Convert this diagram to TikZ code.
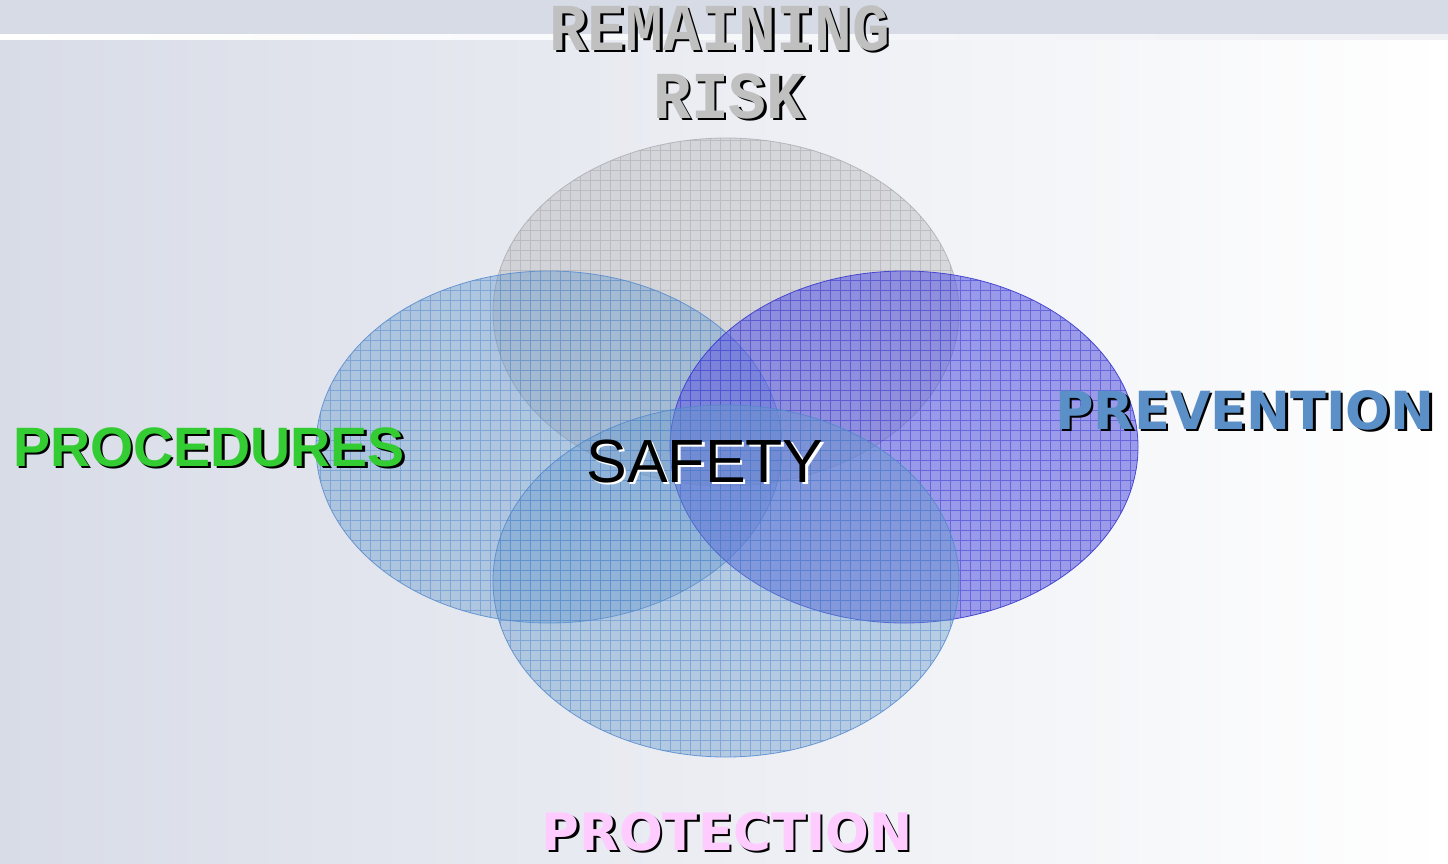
\documentclass[tikz,border=0pt]{standalone}
\usepackage{fontspec}
\newfontfamily\arialf{Liberation Sans}
\newfontfamily\monof{Liberation Mono}
\newfontfamily\verdf{DejaVu Sans}
\definecolor{bgL}{RGB}{216,220,231}
\definecolor{bandc}{RGB}{214,219,230}
\definecolor{grayfill}{RGB}{185,185,188}
\definecolor{grayline}{RGB}{165,165,170}
\definecolor{bluefill}{RGB}{102,153,204}
\definecolor{blueline}{RGB}{80,135,205}
\definecolor{purpfill}{RGB}{95,95,225}
\definecolor{purpline}{RGB}{60,60,205}
\definecolor{procgreen}{RGB}{51,204,51}
\definecolor{prevblue}{RGB}{91,143,200}
\definecolor{protpink}{RGB}{255,204,255}
\definecolor{remgray}{RGB}{192,192,192}
\newcommand{\remfont}{\monof\bfseries\fontsize{67pt}{67pt}\selectfont}
\tikzset{
  lbl/.style={inner sep=0pt, anchor=base},
  shadowblk/.style={lbl, text=black},
}
\begin{document}
\begin{tikzpicture}[x=1pt,y=-1pt]
\useasboundingbox (0,0) rectangle (1448,863);
% background
\fill[left color=bgL, right color=white] (0,0) rectangle (1448,863);
\fill[bandc] (0,0) rectangle (1448,37);
\fill[left color=white, right color=bandc!40!white] (0,34) rectangle (1448,39);
% gray ellipse (remaining risk)
\begin{scope}
  \clip (726,312) ellipse [x radius=233pt, y radius=174pt];
  \fill[grayfill, fill opacity=0.45] (480,120) rectangle (980,500);
  \draw[grayline, line width=0.6pt, opacity=0.5] (480,120) grid[step=10pt] (980,500);
\end{scope}
\draw[grayline, line width=0.8pt, opacity=0.7] (726,312) ellipse [x radius=233pt, y radius=174pt];
% left blue ellipse (procedures)
\begin{scope}
  \clip (549,447) ellipse [x radius=233pt, y radius=176pt];
  \fill[bluefill, fill opacity=0.42] (300,260) rectangle (800,640);
  \draw[blueline, line width=0.6pt, opacity=0.5] (300,260) grid[step=10pt] (800,640);
\end{scope}
\draw[blueline, line width=0.8pt, opacity=0.8] (549,447) ellipse [x radius=233pt, y radius=176pt];
% purple ellipse (prevention)
\begin{scope}
  \clip (904,447) ellipse [x radius=234pt, y radius=176pt];
  \fill[purpfill, fill opacity=0.6] (660,260) rectangle (1150,640);
  \draw[purpline, line width=0.6pt, opacity=0.55] (660,260) grid[step=10pt] (1150,640);
\end{scope}
\draw[purpline, line width=0.8pt, opacity=0.9] (904,447) ellipse [x radius=234pt, y radius=176pt];
% bottom blue ellipse (protection)
\begin{scope}
  \clip (726,581) ellipse [x radius=233pt, y radius=176pt];
  \fill[bluefill, fill opacity=0.42] (480,400) rectangle (980,770);
  \draw[blueline, line width=0.6pt, opacity=0.5] (480,400) grid[step=10pt] (980,770);
\end{scope}
\draw[blueline, line width=0.8pt, opacity=0.8] (726,581) ellipse [x radius=233pt, y radius=176pt];
% labels
\node[shadowblk] (remS) at (722.5,52.5) {\scalebox{0.94}[1]{\remfont REMAINING}};
\node[lbl, text=remgray] (rem) at (720,50) {\scalebox{0.94}[1]{\remfont REMAINING}};
\node[shadowblk] (riskS) at (731.5,120.5) {\scalebox{0.94}[1]{\remfont RISK}};
\node[lbl, text=remgray] (risk) at (729,118) {\scalebox{0.94}[1]{\remfont RISK}};
\node[shadowblk] (procS) at (211.5,468.5) {\arialf\bfseries\fontsize{55.5pt}{55.5pt}\selectfont PROCEDURES};
\node[lbl, text=procgreen] (proc) at (209,466) {\arialf\bfseries\fontsize{55.5pt}{55.5pt}\selectfont PROCEDURES};
\node[lbl, text=white] (safS) at (707.5,484.5) {\arialf\fontsize{61pt}{61pt}\selectfont SAFETY};
\node[lbl, text=black] (saf) at (705,482) {\arialf\fontsize{61pt}{61pt}\selectfont SAFETY};
\node[shadowblk] (prevS) at (1247.5,431.5) {\verdf\bfseries\fontsize{52.5pt}{52.5pt}\selectfont PREVENTION};
\node[lbl, text=prevblue] (prev) at (1245,429) {\verdf\bfseries\fontsize{52.5pt}{52.5pt}\selectfont PREVENTION};
\node[shadowblk] (protS) at (729.5,852.5) {\verdf\bfseries\fontsize{51.5pt}{51.5pt}\selectfont PROTECTION};
\node[lbl, text=protpink] (prot) at (727,850) {\verdf\bfseries\fontsize{51.5pt}{51.5pt}\selectfont PROTECTION};
\end{tikzpicture}
\end{document}
